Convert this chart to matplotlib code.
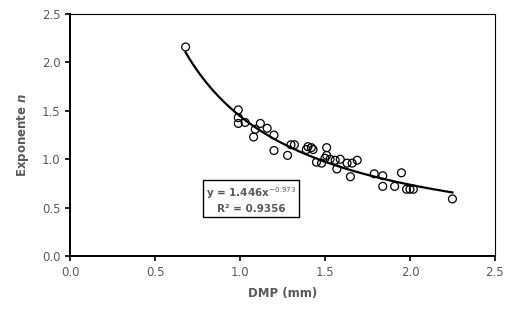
import numpy as np
import matplotlib.pyplot as plt

# DMP (mm) vs exponent n
dmp = [0.68, 0.99, 0.99, 0.99, 1.03, 1.12, 1.09, 1.16, 1.08, 1.20, 1.20,
       1.28, 1.30, 1.32, 1.40, 1.42, 1.39, 1.43, 1.51, 1.51, 1.45, 1.48,
       1.50, 1.53, 1.56, 1.59, 1.63, 1.66, 1.57, 1.65, 1.69, 1.79, 1.84,
       1.84, 1.95, 1.91, 1.98, 2.00, 2.02, 2.25]
expo = [2.16, 1.51, 1.43, 1.37, 1.38, 1.37, 1.31, 1.32, 1.23, 1.25, 1.09,
        1.04, 1.15, 1.15, 1.13, 1.12, 1.10, 1.10, 1.12, 1.04, 0.97, 0.96,
        1.01, 1.00, 0.99, 1.00, 0.96, 0.96, 0.90, 0.82, 0.99, 0.85, 0.83,
        0.72, 0.86, 0.72, 0.69, 0.69, 0.69, 0.59]

# power trendline shown on the chart
coef_a = 1.446
coef_b = -0.973

grey = "#595959"

fig = plt.figure(figsize=(5.15, 3.13), dpi=100)
ax = fig.add_axes([0.136, 0.182, 0.825, 0.773])

xs = np.linspace(min(dmp), max(dmp), 200)
ax.plot(xs, coef_a * xs**coef_b, color="black", linewidth=1.6, zorder=2)
ax.scatter(dmp, expo, s=32, facecolors="none", edgecolors="black",
           linewidths=0.9, zorder=3)

ax.set_xlim(0, 2.5)
ax.set_ylim(0, 2.5)
ax.set_xticks([0.0, 0.5, 1.0, 1.5, 2.0, 2.5])
ax.set_yticks([0.0, 0.5, 1.0, 1.5, 2.0, 2.5])
ax.xaxis.set_major_formatter(plt.FormatStrFormatter("%.1f"))
ax.yaxis.set_major_formatter(plt.FormatStrFormatter("%.1f"))
ax.tick_params(direction="out", length=3.5, width=1.2, colors="black",
               labelcolor=grey, labelsize=8.5)

for s in ["left", "bottom"]:
    ax.spines[s].set_linewidth(1.4)
for s in ["top", "right"]:
    ax.spines[s].set_linewidth(0.8)

ax.set_xlabel("DMP (mm)", color=grey, fontsize=8.5, fontweight="bold",
              labelpad=6)
ax.set_ylabel("Exponente $\\mathbfit{n}$", color=grey, fontsize=8.5,
              fontweight="bold", labelpad=8)

ax.text(1.065, 0.585,
        "y = 1.446x$^{-0.973}$\nR² = 0.9356",
        ha="center", va="center", color=grey, fontsize=7.5,
        fontweight="bold", linespacing=1.35,
        bbox=dict(boxstyle="square,pad=0.3", facecolor="white",
                  edgecolor="black", linewidth=1.0))

plt.savefig("out.png", dpi=100)
